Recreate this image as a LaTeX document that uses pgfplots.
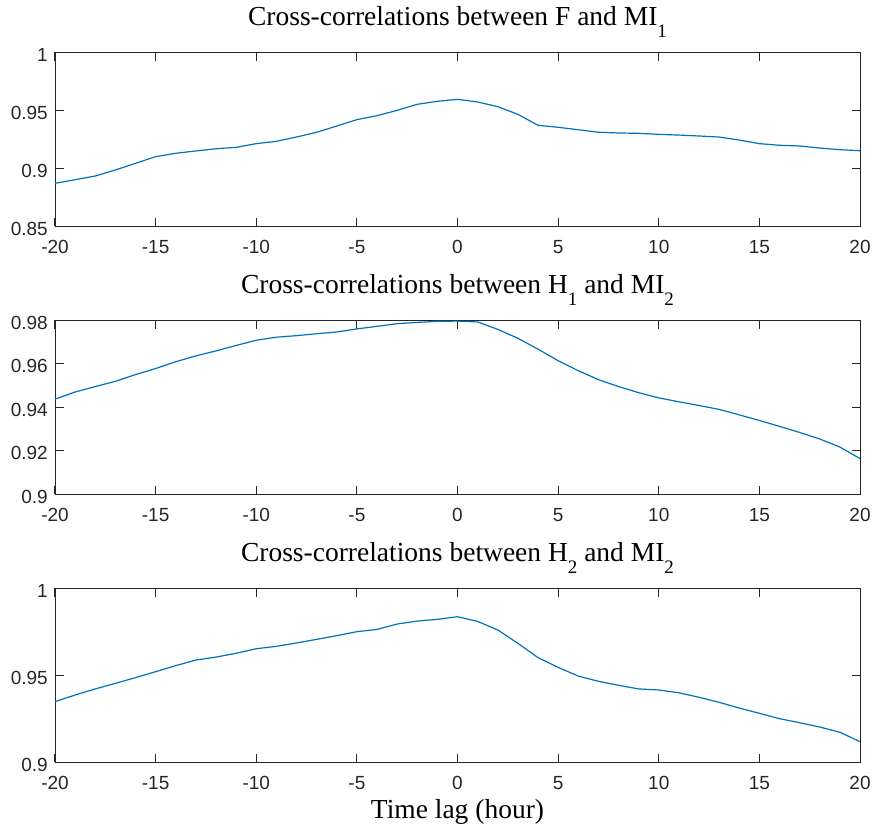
\documentclass[border=0pt]{standalone}
\usepackage{fontspec}
\setmainfont{Liberation Serif}
\newfontfamily\sansf{Liberation Sans}
\usepackage{pgfplots}
\pgfplotsset{compat=1.18}
\definecolor{mblue}{RGB}{0,114,189}
\definecolor{axgray}{RGB}{38,38,38}
\newcommand{\sub}[1]{\raisebox{-12.6pt}{\fontsize{19}{19}\selectfont #1}}
\pgfplotsset{
 mystyle/.style={
  scale only axis, width=805pt, height=174pt,
  xmin=-20, xmax=20,
  xtick={-20,-15,-10,-5,0,5,10,15,20},
  xticklabels={-20,-15,-10,-5,0,5,10,15,20},
  tick align=inside,
  xtick pos=both, ytick pos=both,
  major tick length=8.5pt,
  axis line style={axgray, line width=0.9pt},
  every major tick/.append style={draw=axgray, line width=1pt},
  ticklabel style={font=\sansf\fontsize{19}{19}\selectfont, text=axgray},
  xticklabel style={anchor=base, inner sep=0pt, yshift=-27pt},
  yticklabel style={anchor=east, inner sep=0pt, xshift=-7pt, yshift=-2.5pt},
  title style={font=\fontsize{27.5}{27.5}\selectfont, anchor=base, at={(0.5,1)}, yshift=21pt, inner sep=0pt},
  anchor=south west,
 }
}
\begin{document}
\begin{tikzpicture}
\useasboundingbox (0,0) rectangle (874pt,-828pt);
\begin{axis}[mystyle, at={(55pt,-226pt)},
  ymin=0.85, ymax=1, ytick={0.85,0.9,0.95,1}, yticklabels={0.85,0.9,0.95,1},
  title={Cross-correlations between F and MI\sub{1}}]
\addplot[mblue, line width=1.2pt] coordinates {
(-20,0.8868) (-19,0.8899) (-18,0.8931) (-17,0.8983) (-16,0.9040) (-15,0.9098)
(-14,0.9127) (-13,0.9147) (-12,0.9166) (-11,0.9178) (-10,0.9210) (-9,0.9230)
(-8,0.9267) (-7,0.9308) (-6,0.9362) (-5,0.9417) (-4,0.9451) (-3,0.9497)
(-2,0.9549) (-1,0.9575) (0,0.9592) (1,0.9569) (2,0.9529) (3,0.9463)
(4,0.9368) (5,0.9351) (6,0.9330) (7,0.9308) (8,0.9302) (9,0.9299)
(10,0.9290) (11,0.9284) (12,0.9276) (13,0.9267) (14,0.9241) (15,0.9210)
(16,0.9196) (17,0.9190) (18,0.9172) (19,0.9158) (20,0.9149)};
\end{axis}
\begin{axis}[mystyle, at={(55pt,-494pt)},
  ymin=0.9, ymax=0.98, ytick={0.9,0.92,0.94,0.96,0.98}, yticklabels={0.9,0.92,0.94,0.96,0.98},
  title={Cross-correlations between H\sub{1} and MI\sub{2}}]
\addplot[mblue, line width=1.2pt] coordinates {
(-20,0.9436) (-19,0.9469) (-18,0.9494) (-17,0.9518) (-16,0.9549) (-15,0.9577)
(-14,0.9608) (-13,0.9635) (-12,0.9658) (-11,0.9683) (-10,0.9707) (-9,0.9721)
(-8,0.9728) (-7,0.9737) (-6,0.9745) (-5,0.9759) (-4,0.9771) (-3,0.9783)
(-2,0.9789) (-1,0.9794) (0,0.9795) (1,0.9791) (2,0.9757) (3,0.9716)
(4,0.9666) (5,0.9613) (6,0.9567) (7,0.9526) (8,0.9494) (9,0.9466)
(10,0.9442) (11,0.9424) (12,0.9407) (13,0.9389) (14,0.9364) (15,0.9338)
(16,0.9311) (17,0.9283) (18,0.9253) (19,0.9216) (20,0.9163)};
\end{axis}
\begin{axis}[mystyle, at={(55pt,-762pt)},
  ymin=0.9, ymax=1, ytick={0.9,0.95,1}, yticklabels={0.9,0.95,1},
  title={Cross-correlations between H\sub{2} and MI\sub{2}},
  xlabel={Time lag (hour)},
  xlabel style={font=\fontsize{27.5}{27.5}\selectfont, anchor=base, at={(0.5,0)}, yshift=-56pt, inner sep=0pt}]
\addplot[mblue, line width=1.2pt] coordinates {
(-20,0.9347) (-19,0.9385) (-18,0.9420) (-17,0.9452) (-16,0.9485) (-15,0.9519)
(-14,0.9554) (-13,0.9586) (-12,0.9603) (-11,0.9625) (-10,0.9651) (-9,0.9665)
(-8,0.9684) (-7,0.9705) (-6,0.9726) (-5,0.9749) (-4,0.9762) (-3,0.9793)
(-2,0.9810) (-1,0.9820) (0,0.9835) (1,0.9808) (2,0.9759) (3,0.9682)
(4,0.9600) (5,0.9544) (6,0.9494) (7,0.9464) (8,0.9441) (9,0.9420)
(10,0.9414) (11,0.9398) (12,0.9372) (13,0.9343) (14,0.9310) (15,0.9280)
(16,0.9249) (17,0.9226) (18,0.9201) (19,0.9171) (20,0.9117)};
\end{axis}
\end{tikzpicture}
\end{document}
